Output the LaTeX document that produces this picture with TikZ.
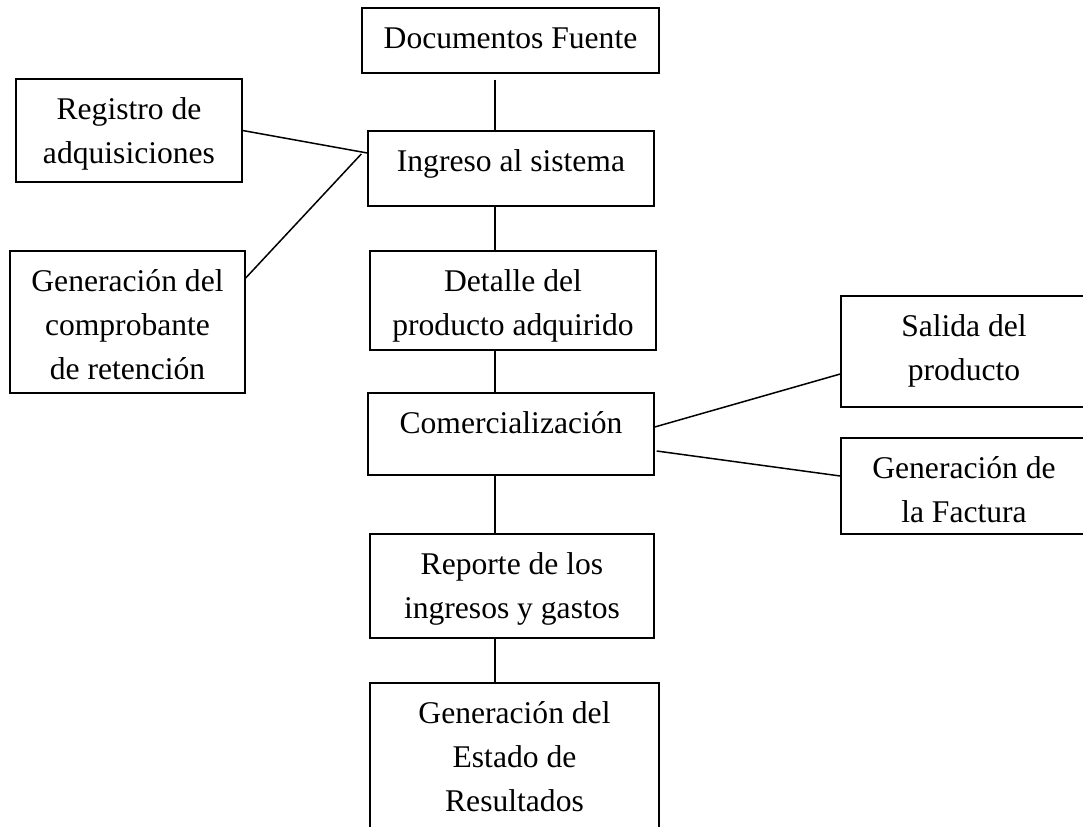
\documentclass[tikz,border=0pt]{standalone}
\usepackage{fontspec}
\setmainfont{Liberation Serif}
\usepackage{tikz}
\usetikzlibrary{calc}
\tikzset{line/.style={draw, line width=0.75pt}}
\newcommand{\celltext}[3]{\parbox[c][#2][t]{#1}{\centering\rule{0pt}{20pt}#3}}

\begin{document}
\begin{tikzpicture}[x=0.5pt, y=-0.5pt, font=\fontsize{15.8}{22}\selectfont]
\tikzstyle{block} = [rectangle, draw, line width=0.7pt, inner sep=0pt]

\clip (0,0) rectangle (1083,826);

% columna central
\node [block](docs) at (510.5,40.5) {\celltext{148.5pt}{32.5pt}{Documentos Fuente}};
\node [block](ingreso) at (511,168.5) {\celltext{143pt}{37.5pt}{Ingreso al sistema}};
\node [block](detalle) at (513,300.5) {\celltext{143pt}{49.5pt}{Detalle del\\producto adquirido}};
\node [block](comerc) at (511,434) {\celltext{143pt}{41pt}{Comercializaci\'on}};
\node [block](reporte) at (512,586) {\celltext{142pt}{52pt}{Reporte de los\\ingresos y gastos}};
\node [block](estado) at (514.5,759) {\celltext{144.5pt}{76pt}{Generaci\'on del\\Estado de\\Resultados}};

% izquierda
\node [block](reg) at (129,130.5) {\celltext{113pt}{51.5pt}{Registro de\\adquisiciones}};
\node [block](comprob) at (127.5,322) {\celltext{117.5pt}{71pt}{Generaci\'on del\\comprobante\\de retenci\'on}};

% derecha
\node [block](salida) at (964,351.5) {\celltext{123pt}{55.5pt}{Salida del\\producto}};
\node [block](factura) at (964,486) {\celltext{123pt}{48pt}{Generaci\'on de\\la Factura}};

% lineas
\coordinate (spine) at (495,0);
\draw [line] ($(spine |- docs.south)+(0,6)$) -- (spine |- ingreso.north);
\draw [line] (spine |- ingreso.south) -- (spine |- detalle.north);
\draw [line] (spine |- detalle.south) -- (spine |- comerc.north);
\draw [line] (spine |- comerc.south) -- (spine |- reporte.north);
\draw [line] (spine |- reporte.south) -- (spine |- estado.north);

\draw [line] (reg.east) -- ($(ingreso.west)+(0,-15.5)$);
\draw [line] ($(comprob.east)+(0,-44)$) -- ($(ingreso.west)+(-6,-14.5)$);
\draw [line] ($(comerc.east)+(0,-7)$) -- ($(salida.west)+(0,22.5)$);
\draw [line] ($(comerc.east)+(2,17)$) -- ($(factura.west)+(0,-10)$);

\end{tikzpicture}
\end{document}
